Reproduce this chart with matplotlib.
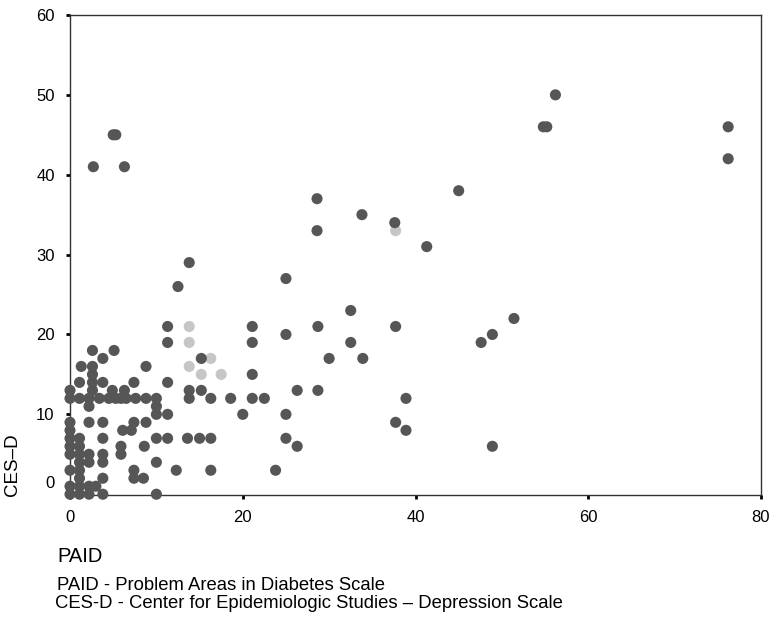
import matplotlib
matplotlib.use("Agg")
import matplotlib.pyplot as plt

# PAID / CES-D scores, dark points
paid = [
    2.7, 5.0, 5.3, 6.3, 56.2, 54.8, 55.2, 76.2, 76.2, 45.0, 28.6, 28.6, 33.8, 37.6, 41.3,
    12.5, 13.8, 25.0,
    11.3, 11.3, 21.1, 21.1, 28.7, 32.5, 37.7, 25.0, 32.5, 30.0, 33.9, 51.4, 48.9, 47.6,
    15.2, 21.1,
    13.8, 15.2, 13.8, 16.3, 18.6, 21.1, 22.5, 26.3, 28.7, 20.0, 25.0, 38.9, 37.7, 38.9,
    48.9, 13.6, 15.0, 16.3, 25.0, 26.3, 12.3, 16.3, 23.8,
    2.6, 5.1, 3.8, 1.3, 2.6, 8.8, 2.6,
    1.1, 2.6, 3.8, 7.4, 11.3,
    0.0, 2.6, 4.9, 6.3,
    0.0, 1.1, 2.2, 3.4, 4.5, 5.3, 5.9, 6.5, 7.6, 8.8, 10.0,
    2.2, 10.0, 10.0, 11.3,
    0.0, 2.2, 3.8, 7.4, 8.8,
    0.0, 6.1, 7.1,
    0.0, 1.1, 3.8, 10.0, 11.3,
    0.0, 1.1, 5.9, 8.6,
    0.0, 1.1, 2.2, 3.8, 5.9,
    1.1, 2.2, 3.8, 10.0,
    0.0, 1.1, 7.4,
    1.1, 3.8, 7.4, 8.5,
    0.0, 1.1, 2.2, 3.0,
    0.0, 1.1, 2.2, 3.8, 10.0,
]
cesd = [
    41, 45, 45, 41, 50, 46, 46, 46, 42, 38, 37, 33, 35, 34, 31,
    26, 29, 27,
    21, 19, 21, 19, 21, 23, 21, 20, 19, 17, 17, 22, 20, 19,
    17, 15,
    13, 13, 12, 12, 12, 12, 12, 13, 13, 10, 10, 12, 9, 8,
    6, 7, 7, 7, 7, 6, 3, 3, 3,
    18, 18, 17, 16, 16, 16, 15,
    14, 14, 14, 14, 14,
    13, 13, 13, 13,
    12, 12, 12, 12, 12, 12, 12, 12, 12, 12, 12,
    11, 11, 10, 10,
    9, 9, 9, 9, 9,
    8, 8, 8,
    7, 7, 7, 7, 7,
    6, 6, 6, 6,
    5, 5, 5, 5, 5,
    4, 4, 4, 4,
    3, 3, 3,
    2, 2, 2, 2,
    1, 1, 1, 1,
    0, 0, 0, 0, 0,
]

# light grey points
paid_light = [13.8, 13.8, 16.3, 13.8, 15.2, 17.5, 37.7]
cesd_light = [21, 19, 17, 16, 15, 15, 33]

x_ticks = [0, 20, 40, 60, 80]
y_ticks = [0, 10, 20, 30, 40, 50, 60]
y_labels = ['', '10', '20', '30', '40', '50', '60']

plt.rcParams['font.family'] = ['Liberation Sans', 'DejaVu Sans']

fig = plt.figure(figsize=(7.77, 6.19), dpi=100)
ax = fig.add_axes([0.0901, 0.2003, 0.8893, 0.7755])

ax.scatter(paid_light, cesd_light, s=64, color='#c6c6c6', edgecolors='none', zorder=3)
ax.scatter(paid, cesd, s=64, color='#565656', edgecolors='none', zorder=4, clip_on=False)

ax.set_xlim(0, 80)
ax.set_ylim(-0.1, 60)
ax.set_xticks(x_ticks)
ax.set_yticks(y_ticks)
ax.set_yticklabels(y_labels)
ax.tick_params(axis='both', direction='out', length=3, width=2, color='black',
               labelsize=12, pad=8)
# the zero label on the y axis sits a little above its tick
ax.annotate('0', xy=(0, 0), xycoords=ax.get_yaxis_transform(),
            xytext=(-11, 7.5), textcoords='offset points',
            ha='right', va='center', fontsize=12)

for sp in ax.spines.values():
    sp.set_color('#333333')
    sp.set_linewidth(1.0)

fig.text(13 / 777, 1 - 465 / 619, 'CES\u2013D', rotation=90, fontsize=13.5,
         ha='center', va='center')
fig.text(57 / 777, 1 - 557 / 619, 'PAID', fontsize=14.5, ha='left', va='center')
fig.text(57 / 777, 1 - 585 / 619, 'PAID - Problem Areas in Diabetes Scale',
         fontsize=13.3, ha='left', va='center')
fig.text(55 / 777, 1 - 603 / 619,
         'CES-D - Center for Epidemiologic Studies \u2013 Depression Scale',
         fontsize=13.3, ha='left', va='center')

fig.savefig('out.png', dpi=100)
